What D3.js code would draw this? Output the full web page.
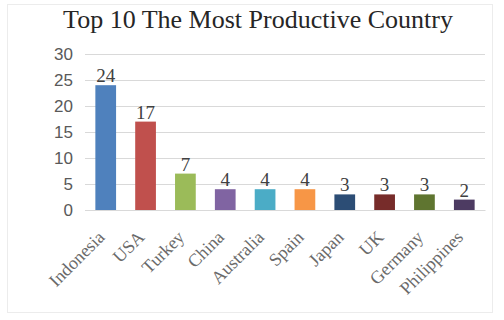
<!DOCTYPE html>
<html>
<head>
<meta charset="utf-8">
<script src="https://cdn.jsdelivr.net/npm/d3@7"></script>
<style>
  body { margin: 0; background: #fff; }
  text { font-family: "Liberation Serif", "Times New Roman", serif; }
</style>
</head>
<body>
<div id="chart"></div>
<script>
// data
let countries = ["Indonesia", "USA", "Turkey", "China", "Australia", "Spain", "Japan", "UK", "Germany", "Philippines"];
let counts = [24, 17, 7, 4, 4, 4, 3, 3, 3, 2];
let barColors = ["#4f81bd", "#c0504d", "#9bbb59", "#8064a2", "#4bacc6", "#f79646", "#2c4d75", "#772c2a", "#5f7530", "#4d3b62"];
let yTicks = [0, 5, 10, 15, 20, 25, 30];

let width = 504,
    height = 320;
let margin = { top: 54, right: 19, bottom: 110, left: 85 };

let data = countries.map(function(c, i) { return { country: c, count: counts[i], color: barColors[i] }; });

let svg = d3.select("#chart")
    .append("svg")
    .attr("width", width)
    .attr("height", height);

// faint frame round the chart
svg.append("rect")
    .attr("x", 7.5).attr("y", 4.5)
    .attr("width", 485).attr("height", 308)
    .attr("fill", "none")
    .attr("stroke", "#ececec");

let g = svg.append("g")
    .attr("transform", `translate(${margin.left}, ${margin.top})`);

let innerW = width - margin.left - margin.right,
    innerH = height - margin.top - margin.bottom;

let x = d3.scaleBand()
    .domain(countries)
    .range([0, innerW])
    .paddingInner(0.48)
    .paddingOuter(0.26);

let y = d3.scaleLinear()
    .domain([0, 30])
    .range([innerH, 0]);

// y axis with gridlines
let yAxis = g.append("g")
    .call(d3.axisLeft(y).tickValues(yTicks).tickSize(-innerW).tickPadding(12));
yAxis.select(".domain").remove();
yAxis.selectAll(".tick line").attr("stroke", "#d9d9d9");
yAxis.selectAll(".tick text")
    .attr("fill", "#595959")
    .style("font-family", "'Liberation Sans', Arial, sans-serif")
    .style("font-size", "17px");

// x axis
let xAxis = g.append("g")
    .attr("transform", `translate(0, ${innerH})`)
    .call(d3.axisBottom(x).tickSize(0).tickPadding(8));
xAxis.select(".domain").attr("stroke", "#d9d9d9");
xAxis.selectAll(".tick text")
    .attr("fill", "#6a6a6a")
    .style("font-size", "18px")
    .style("text-anchor", "end")
    .attr("dx", "-20")
    .attr("dy", "12")
    .attr("transform", "rotate(-45)");

// bars
g.selectAll("rect.bar")
    .data(data)
    .enter()
    .append("rect")
    .attr("class", "bar")
    .attr("x", function(d) { return x(d.country); })
    .attr("y", function(d) { return y(d.count); })
    .attr("width", x.bandwidth())
    .attr("height", function(d) { return innerH - y(d.count); })
    .attr("fill", function(d) { return d.color; });

// value labels
g.selectAll("text.value")
    .data(data)
    .enter()
    .append("text")
    .attr("class", "value")
    .attr("x", function(d) { return x(d.country) + x.bandwidth() / 2; })
    .attr("y", function(d) { return y(d.count) - 3; })
    .style("text-anchor", "middle")
    .style("font-size", "19px")
    .attr("fill", "#404040")
    .text(function(d) { return d.count; });

// title
svg.append("text")
    .attr("x", 258)
    .attr("y", 28)
    .style("text-anchor", "middle")
    .style("font-size", "26px")
    .attr("fill", "#262626")
    .text("Top 10 The Most Productive Country");
</script>
</body>
</html>
